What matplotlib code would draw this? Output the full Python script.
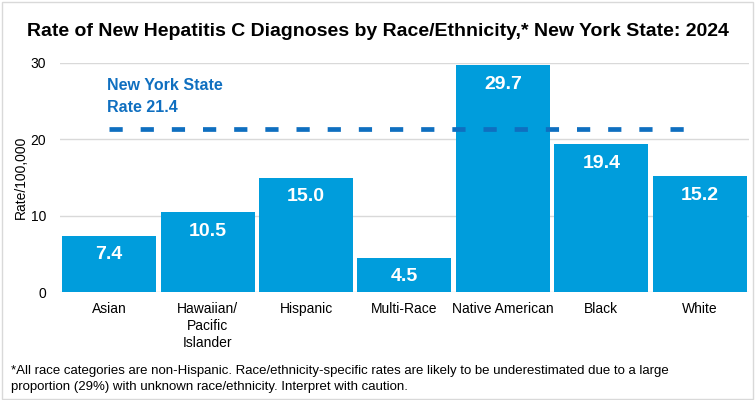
import matplotlib.pyplot as plt
from matplotlib.patches import Rectangle

plt.rcParams['font.family'] = ['Liberation Sans', 'DejaVu Sans']

categories = ["Asian", "Hawaiian/\nPacific\nIslander", "Hispanic", "Multi-Race",
              "Native American", "Black", "White"]
rates = [7.4, 10.5, 15.0, 4.5, 29.7, 19.4, 15.2]
state_rate = 21.4

bar_color = "#009ddc"
line_color = "#0f6fc0"

fig = plt.figure(figsize=(7.55, 4.0), dpi=100)
ax = fig.add_axes([0.0795, 0.27, 0.9125, 0.5725])

x = list(range(len(categories)))
bars = ax.bar(x, rates, width=0.955, color=bar_color, zorder=2)
for xi, v in zip(x, rates):
    ax.text(xi, v - 1.4, f"{v:.1f}", ha="center", va="top", color="white",
            fontsize=14, fontweight="bold", zorder=3)

ax.plot([0, 6], [state_rate, state_rate], color=line_color, lw=3.4,
        dashes=(2.8, 3.8), zorder=4)
ax.text(-0.02, 25.6, f"New York State\nRate {state_rate}", color=line_color,
        fontsize=11.5, fontweight="bold", ha="left", va="center", linespacing=1.6)

ax.set_xlim(-0.5, 6.5)
ax.set_ylim(0, 30)
ax.set_yticks([0, 10, 20, 30])
ax.yaxis.grid(True, color="#d9d9d9", lw=1, zorder=0)
ax.set_axisbelow(True)
for s in ax.spines.values():
    s.set_visible(False)
ax.tick_params(axis="both", length=0, labelsize=10, colors="black")
ax.tick_params(axis="x", pad=7)
ax.tick_params(axis="y", pad=10)
ax.set_xticks(x)
ax.set_xticklabels(categories, linespacing=1.3, va="top")
ax.set_ylabel("Rate/100,000", fontsize=10, labelpad=2)

fig.text(0.5, 0.922, "Rate of New Hepatitis C Diagnoses by Race/Ethnicity,* New York State: 2024",
         ha="center", va="center", fontsize=14, fontweight="bold")
fig.text(0.015, 0.053,
         "*All race categories are non-Hispanic. Race/ethnicity-specific rates are likely to be underestimated due to a large\n"
         "proportion (29%) with unknown race/ethnicity. Interpret with caution.",
         ha="left", va="center", fontsize=9.5, linespacing=1.45)

fig.add_artist(Rectangle((0.002, 0.003), 0.995, 0.993, transform=fig.transFigure,
                         fill=False, edgecolor="#d9d9d9", lw=1))

fig.savefig("out.png", dpi=100)
